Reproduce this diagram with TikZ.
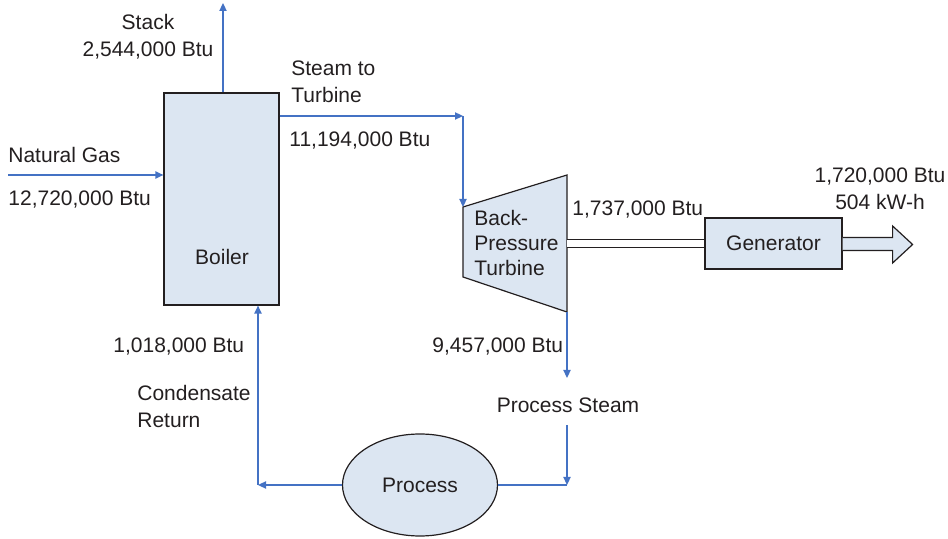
\documentclass[tikz,border=0pt]{standalone}
\usepackage{fontspec}
\setmainfont{Liberation Sans}
\usetikzlibrary{arrows.meta,shapes.geometric}
\definecolor{flowblue}{HTML}{4472C4}
\definecolor{boxfill}{HTML}{DCE6F2}
\definecolor{ink}{HTML}{231F20}

\begin{document}
\begin{tikzpicture}[x=0.5pt,y=-0.5pt,
  every node/.style={font=\fontsize{10.5}{13.5}\selectfont,text=ink,inner sep=0pt},
  unit/.style={draw=ink,line width=0.6pt,fill=boxfill},
  lab/.style={align=left,anchor=west},
  flow/.style={draw=flowblue,line width=0.75pt,-{Triangle[length=4pt,width=3.6pt]}},
  pipe/.style={draw=flowblue,line width=0.75pt},
  shaft/.style={draw=ink,line width=0.5pt,double=white,double distance=3.5pt}]
\useasboundingbox (0,0) rectangle (948,539);
\node[unit,minimum width=57.5pt,minimum height=106pt] (boiler) at (221.5,199) {};
\node (boilertxt) at (222,257) {Boiler};
\coordinate (tl) at (463,207);
\coordinate (bl) at (463,277);
\coordinate (tr) at (567,175);
\coordinate (br) at (567,312);
\draw[unit] (tl) -- (tr) -- (br) -- (bl) -- cycle;
\node[lab,font=\fontsize{10.5}{12.5}\selectfont] (turbinetxt) at (474,243) {Back-\\Pressure\\Turbine};
\node[unit,minimum width=68.5pt,minimum height=25.5pt] (gen) at (773.5,243.5) {Generator};
\node[unit,ellipse,minimum width=77.5pt,minimum height=51pt] (process) at (420,485) {Process};
\coordinate (stacktop) at (223,3);
\coordinate (gasin) at (8,175);
\coordinate (steamc) at (463,116);
\coordinate (shaftin) at (567,244);
\coordinate (psend) at (567,378);
\coordinate (pstop) at (567,425);
\coordinate (pcorner) at (567,485);
\coordinate (rcorner) at (258,485);
\draw[flow] (stacktop |- boiler.north) -- (stacktop);
\draw[flow] (gasin) -- (gasin -| boiler.west);
\draw[flow] (boiler.east |- steamc) -- (steamc);
\draw[flow] (steamc) -- (tl);
\draw[shaft] (shaftin) -- (shaftin -| gen.west);
\draw[unit] (gen.east) ++(0,-6) -- ++(50,0) -- ++(0,-11.5) -- ++(20,18.5) -- ++(-20,18.5) -- ++(0,-12.5) -- ++(-50,0);
\draw[flow] (br) -- (psend);
\draw[flow] (pstop) -- (pcorner);
\draw[pipe] (process.east) -- (pcorner);
\draw[flow] (process.west) -- (rcorner);
\draw[flow] (rcorner) -- (rcorner |- boiler.south);
\node[align=center] (stacklab) at (148,37) {Stack\\2,544,000 Btu};
\node[lab] (gaslab) at (8,155) {Natural Gas};
\node[lab] (gasval) at (8,200) {12,720,000 Btu};
\node[lab] (steamlab) at (291,82) {Steam to\\Turbine};
\node[lab] (steamval) at (289,141) {11,194,000 Btu};
\node[lab] (shaftval) at (572,210) {1,737,000 Btu};
\node[align=center] (powerlab) at (880,189) {1,720,000 Btu\\504 kW-h};
\node[lab] (condval) at (113,347) {1,018,000 Btu};
\node[lab] (condlab) at (137,406) {Condensate\\Return};
\node[lab] (psval) at (432,347) {9,457,000 Btu};
\node (pslab) at (568,405) {Process Steam};
\end{tikzpicture}
\end{document}
